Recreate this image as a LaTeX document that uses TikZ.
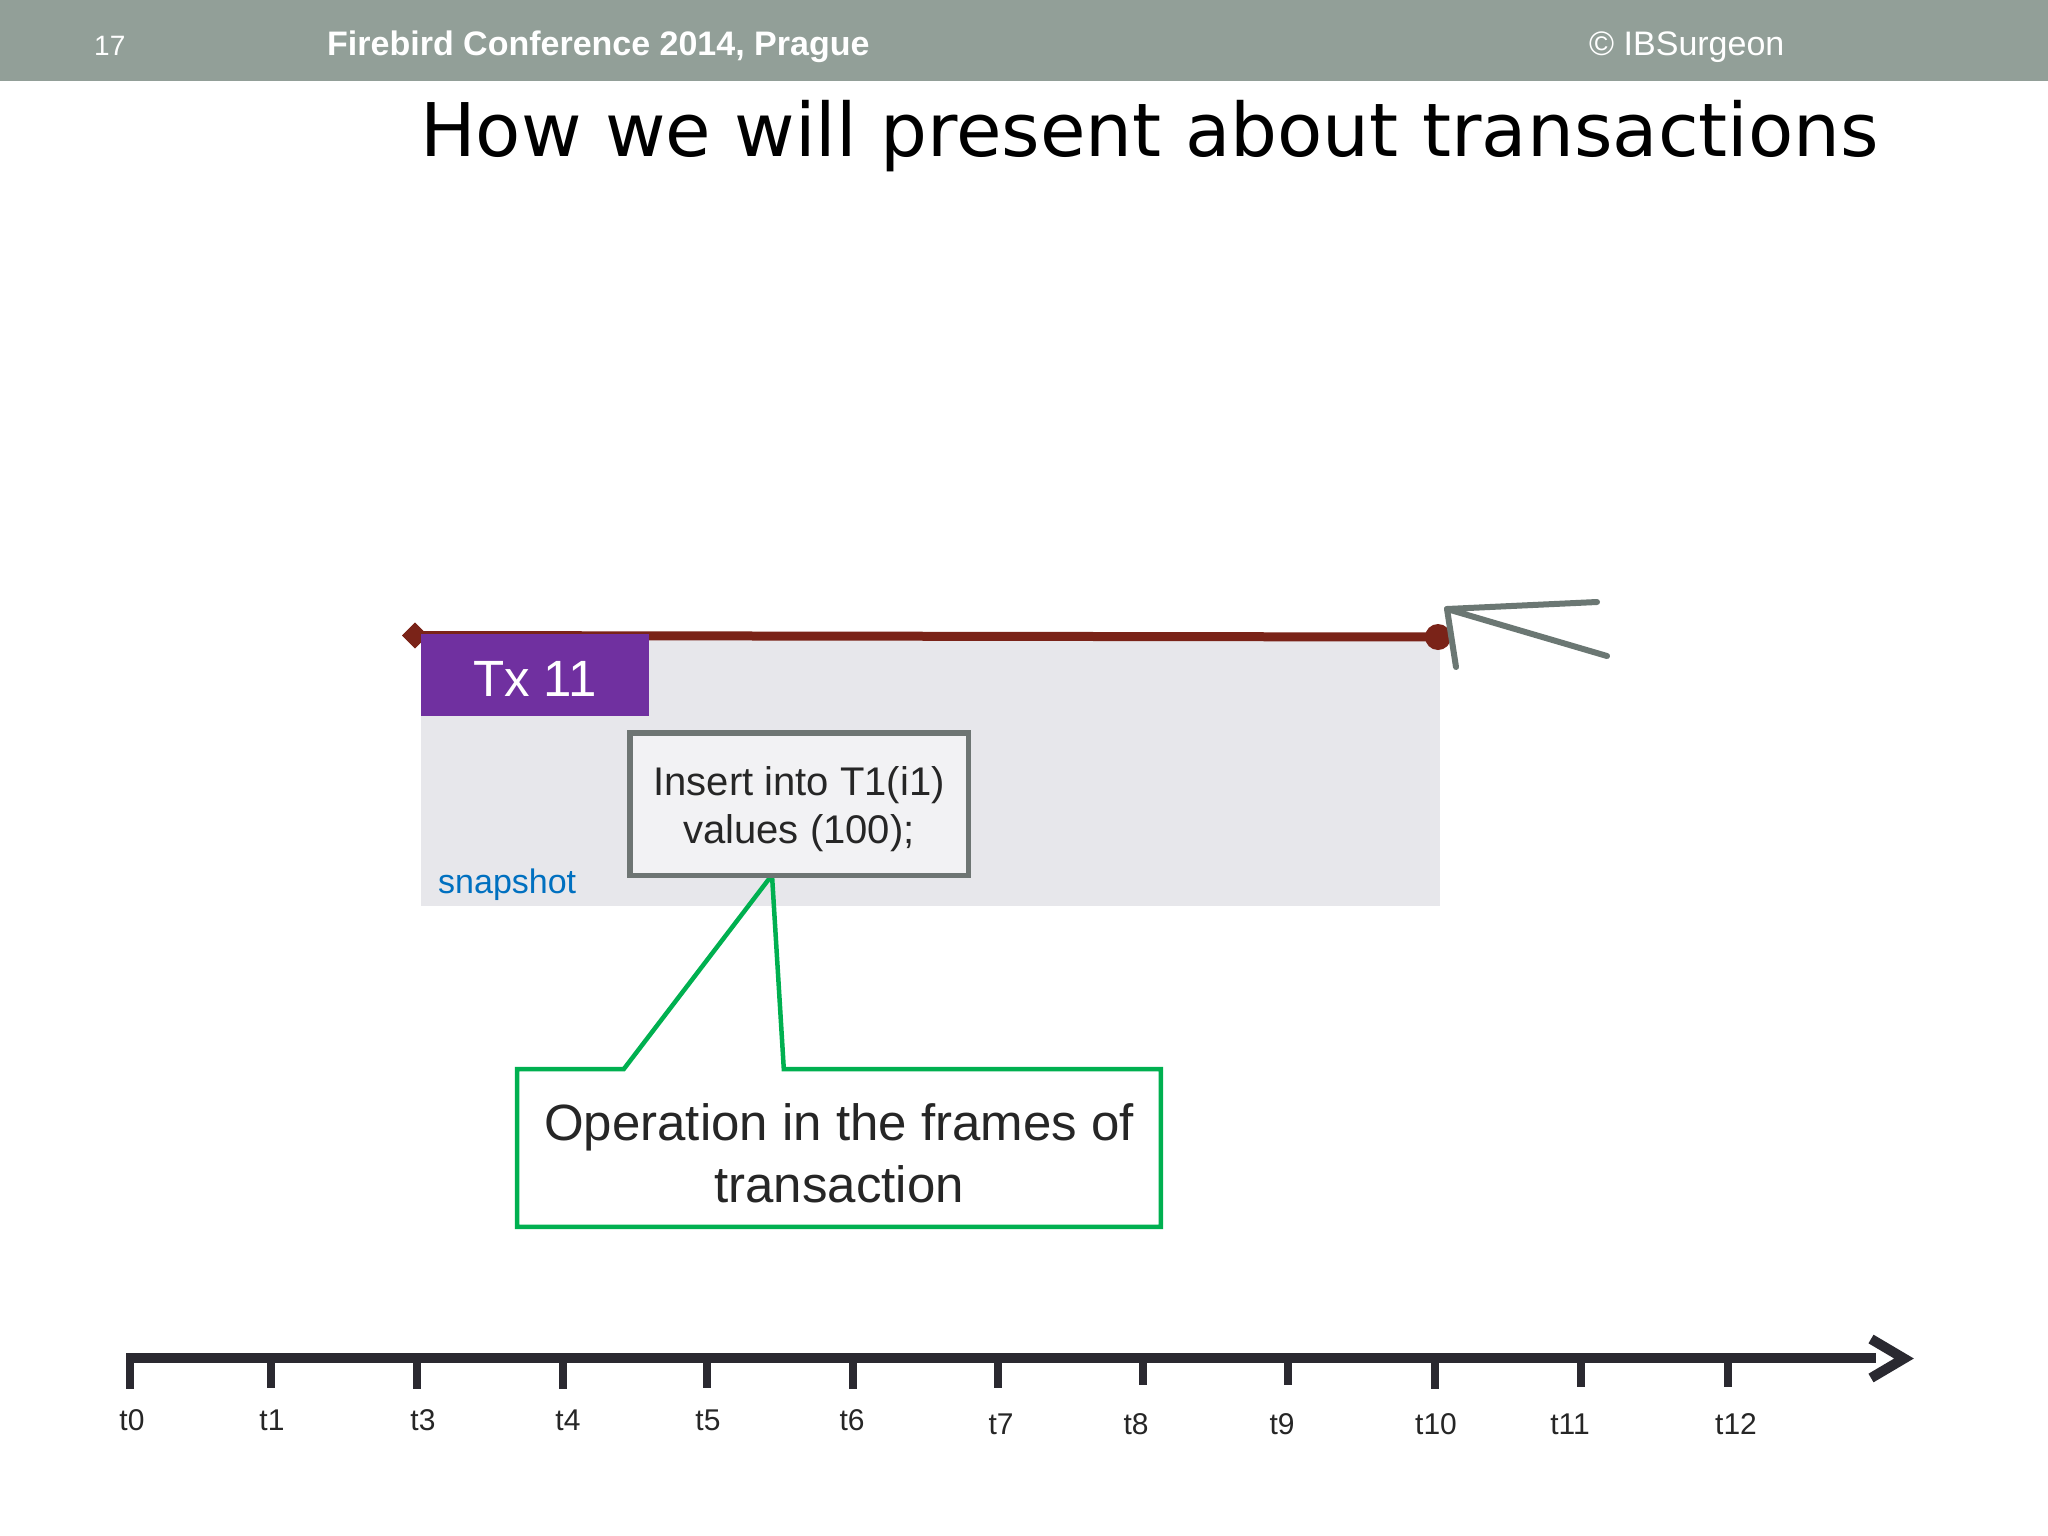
\documentclass[tikz,border=0pt]{standalone}
\usepackage{fontspec}
\setmainfont{Liberation Sans}
\newfontfamily\titlefont{DejaVu Sans}
\usetikzlibrary{calc,shapes.geometric}
\definecolor{hdr}{HTML}{929F98}
\definecolor{snapgray}{HTML}{E7E7EB}
\definecolor{txred}{HTML}{7A2318}
\definecolor{txpurple}{HTML}{7030A0}
\definecolor{boxgray}{HTML}{6E7573}
\definecolor{boxfill}{HTML}{F2F2F4}
\definecolor{opgreen}{HTML}{00B050}
\definecolor{snapblue}{HTML}{0070C0}
\definecolor{axiscol}{HTML}{2A2930}
\definecolor{arrowgray}{HTML}{6B7773}
\definecolor{lblcol}{HTML}{262626}
\begin{document}
\begin{tikzpicture}[x=1pt,y=-1pt,
  hdrtext/.style={text=white, anchor=base west, inner sep=0pt},
  tick/.style={axiscol, line width=8pt},
  ticklabel/.style={text=lblcol, anchor=base, inner sep=0pt, font=\fontsize{30}{36}\selectfont},
  opbox/.style={draw=none, minimum width=643.5pt, minimum height=157.5pt, inner sep=0pt, align=center,
    text=lblcol, font=\fontsize{51}{62}\selectfont},
  insbox/.style={draw=boxgray, fill=boxfill, line width=5.5pt, minimum width=338.5pt, minimum height=142.5pt,
    inner sep=0pt, align=center, text=lblcol, font=\fontsize{40}{48}\selectfont},
  txbox/.style={fill=txpurple, minimum width=228pt, minimum height=82pt, inner sep=0pt, text=white,
    font=\fontsize{51}{58}\selectfont},
  snapbox/.style={fill=snapgray, minimum width=1019pt, minimum height=270pt, inner sep=0pt},
  startmark/.style={diamond, fill=txred, minimum size=26pt, inner sep=0pt},
  endmark/.style={circle, fill=txred, minimum size=26pt, inner sep=0pt},
  grayarrow/.style={arrowgray, line width=6pt, line cap=round, line join=round}
]
\useasboundingbox (0,0) rectangle (2048,1536);
\fill[white] (0,0) rectangle (2048,1536);
% header
\fill[hdr] (0,0) rectangle (2048,81);
\node[hdrtext, font=\fontsize{28}{32}\selectfont] (num) at (94,56) {17};
\node[hdrtext, font=\bfseries\fontsize{34}{40}\selectfont] (conf) at (327,56) {Firebird Conference 2014, Prague};
\node[hdrtext, font=\fontsize{34}{40}\selectfont] (copy) at (1589,56) {© IBSurgeon};
% title
\node[anchor=base west, inner sep=0pt, font=\titlefont\fontsize{74}{80}\selectfont] (title) at (420,157)
  {How we will present about transactions};
% snapshot area
\node[snapbox] (snap) at (930.5,771) {};
% transaction line
\node[startmark] (s) at (415,635.5) {};
\node[endmark] (e) at (1438,637) {};
\draw[txred, line width=9pt] (s.center) -- (e.center);
\node[startmark] at (s) {};
\node[txbox] (tx) at (535,675) {\rule{0pt}{43pt}Tx 11};
\node[anchor=base west, inner sep=0pt, text=snapblue, font=\fontsize{34}{40}\selectfont] (snaplbl) at (438,893) {snapshot};
% callout
\node[opbox] (op) at (839,1148) {\rule{0pt}{47pt}Operation in the frames of\\transaction};
\node[insbox] (ins) at (799,804) {\rule{0pt}{39pt}Insert into T1(i1)\\values (100);};
\coordinate (tip) at ($(ins.south)+(-27,-3)$);
\draw[opgreen, line width=4.5pt, line join=miter]
  (op.north west) -- ($(op.north west)+(106.75,0)$) -- (tip) -- ($(op.north west)+(266.75,0)$)
  -- (op.north east) -- (op.south east) -- (op.south west) -- cycle;
\node[insbox] at (ins) {\rule{0pt}{39pt}Insert into T1(i1)\\values (100);};
% gray arrow at end of transaction
\coordinate (gtip) at (1447,609);
\coordinate (gup) at (1597,602);
\coordinate (glow) at (1607,656);
\coordinate (gdown) at (1456,667);
\draw[grayarrow] (gup) -- (gtip) -- (glow);
\draw[grayarrow] (gtip) -- (gdown);
% time axis
\coordinate (a0) at (126,1358);
\coordinate (a1) at (1876,1358);
\draw[axiscol, line width=10pt] (a0) -- (a1);
\coordinate (atip) at (1904,1358.5);
\draw[axiscol, line width=10pt, line join=miter] (1871,1339) -- (atip) -- (1871,1378);
\foreach \n/\x/\b/\lx/\ly in {t0/130/1389/132/1430, t1/271/1388/272/1430, t3/417/1389/423/1430,
   t4/563/1389/568/1430, t5/707/1388/708/1430, t6/853/1389/852/1430, t7/998/1388/1001/1434,
   t8/1143/1385/1136/1434, t9/1288/1385/1282/1434, t10/1435/1389/1436/1434, t11/1581/1387/1570/1434,
   t12/1728/1387/1736/1434}{
  \coordinate (k\n) at (\x,1358);
  \draw[tick] (k\n) -- (\x,\b);
  \node[ticklabel] (l\n) at (\lx,\ly) {\n};
}
\end{tikzpicture}
\end{document}
